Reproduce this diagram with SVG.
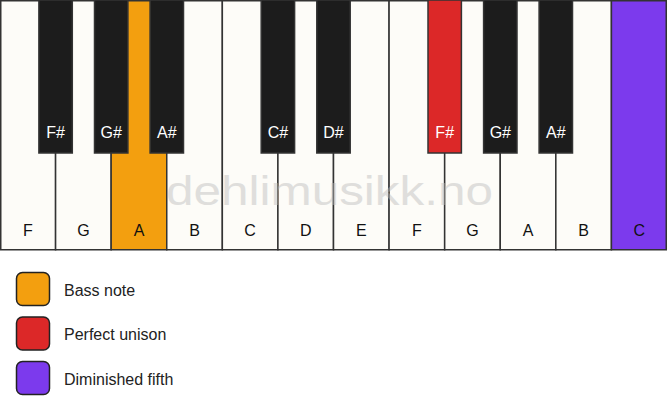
<svg xmlns="http://www.w3.org/2000/svg" width="667" height="417" viewBox="0 0 667 417">
<style>
.w{fill:#fdfcf8;stroke:#333;stroke-width:1.5}
.b{fill:#1c1c1c;stroke:#333;stroke-width:1.5}
.lw{font-family:"Liberation Sans",Arial,sans-serif;font-size:16px;fill:#111;text-anchor:middle}
.lb{font-family:"Liberation Sans",Arial,sans-serif;font-size:16px;fill:#fff;text-anchor:middle}
.lg{font-family:"Liberation Sans",Arial,sans-serif;font-size:16px;fill:#222}
.box{stroke:#222;stroke-width:1.5}
</style>
<rect width="667" height="417" fill="#ffffff"/>
<g id="white-keys">
<g id="wk-F1"><rect class="w" x="0.75" y="0.75" width="54.83" height="249"/><text class="lw" x="27.8" y="236">F</text></g>
<g id="wk-G1"><rect class="w" x="55.58" y="0.75" width="55.58" height="249"/><text class="lw" x="83.4" y="236">G</text></g>
<g id="wk-A1"><rect class="w" x="111.17" y="0.75" width="55.58" height="249" style="fill:#f39f0f"/><text class="lw" x="139" y="236">A</text></g>
<g id="wk-B1"><rect class="w" x="166.75" y="0.75" width="55.58" height="249"/><text class="lw" x="194.5" y="236">B</text></g>
<g id="wk-C1"><rect class="w" x="222.33" y="0.75" width="55.58" height="249"/><text class="lw" x="250.1" y="236">C</text></g>
<g id="wk-D1"><rect class="w" x="277.92" y="0.75" width="55.58" height="249"/><text class="lw" x="305.7" y="236">D</text></g>
<g id="wk-E1"><rect class="w" x="333.5" y="0.75" width="55.58" height="249"/><text class="lw" x="361.3" y="236">E</text></g>
<g id="wk-F2"><rect class="w" x="389.08" y="0.75" width="55.58" height="249"/><text class="lw" x="416.9" y="236">F</text></g>
<g id="wk-G2"><rect class="w" x="444.67" y="0.75" width="55.58" height="249"/><text class="lw" x="472.5" y="236">G</text></g>
<g id="wk-A2"><rect class="w" x="500.25" y="0.75" width="55.58" height="249"/><text class="lw" x="528" y="236">A</text></g>
<g id="wk-B2"><rect class="w" x="555.83" y="0.75" width="55.58" height="249"/><text class="lw" x="583.6" y="236">B</text></g>
<g id="wk-C2"><rect class="w" x="611.42" y="0.75" width="54.83" height="249" style="fill:#7c3aed"/><text class="lw" x="639.2" y="236">C</text></g>
</g>
<g id="black-keys">
<g id="bk-Fs1"><rect class="b" x="38.9" y="0" width="33.4" height="153"/><text class="lb" x="55.6" y="138">F#</text></g>
<g id="bk-Gs1"><rect class="b" x="94.5" y="0" width="33.4" height="153"/><text class="lb" x="111.2" y="138">G#</text></g>
<g id="bk-As1"><rect class="b" x="150.1" y="0" width="33.4" height="153"/><text class="lb" x="166.8" y="138">A#</text></g>
<g id="bk-Cs1"><rect class="b" x="261.2" y="0" width="33.4" height="153"/><text class="lb" x="277.9" y="138">C#</text></g>
<g id="bk-Ds1"><rect class="b" x="316.8" y="0" width="33.4" height="153"/><text class="lb" x="333.5" y="138">D#</text></g>
<g id="bk-Fs2"><rect class="b" x="428" y="0" width="33.4" height="153" style="fill:#dc2828"/><text class="lb" x="444.7" y="138">F#</text></g>
<g id="bk-Gs2"><rect class="b" x="483.6" y="0" width="33.4" height="153"/><text class="lb" x="500.3" y="138">G#</text></g>
<g id="bk-As2"><rect class="b" x="539.1" y="0" width="33.4" height="153"/><text class="lb" x="555.8" y="138">A#</text></g>
</g>
<text id="watermark" x="166" y="205" textLength="327" lengthAdjust="spacingAndGlyphs" style="font-family:'Liberation Sans',Arial,sans-serif;font-size:40px;fill:#bbbbbb;opacity:0.45">dehlimusikk.no</text>
<g id="legend">
<g id="lg-bass"><rect class="box" x="16.5" y="272.5" width="33" height="33" rx="6" fill="#f39f0f"/><text class="lg" x="64" y="295.5">Bass note</text></g>
<g id="lg-unison"><rect class="box" x="16.5" y="317" width="33" height="33" rx="6" fill="#dc2828"/><text class="lg" x="64" y="340">Perfect unison</text></g>
<g id="lg-dim5"><rect class="box" x="16.5" y="361.5" width="33" height="33" rx="6" fill="#7c3aed"/><text class="lg" x="64" y="384.5">Diminished fifth</text></g>
</g>
</svg>
